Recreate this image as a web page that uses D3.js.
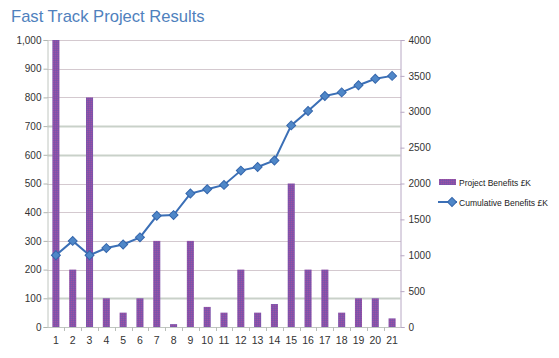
<!DOCTYPE html>
<html><head><meta charset="utf-8">
<script src="https://cdn.jsdelivr.net/npm/d3@7"></script>
<style>body{margin:0;background:#fff}svg{display:block;font-family:"Liberation Sans",Arial,sans-serif}</style>
</head><body><svg id="c" width="559" height="358"></svg>
<script>
const categories = ["1","2","3","4","5","6","7","8","9","10","11","12","13","14","15","16","17","18","19","20","21"];
const projectBenefits = [1000,200,800,100,50,100,300,10,300,70,50,200,50,80,500,200,200,50,100,100,30];
const cumulativeBenefits = [1000,1200,1000,1100,1150,1250,1550,1560,1860,1920,1980,2180,2230,2320,2810,3010,3220,3270,3370,3460,3500];
const leftTicks = [0,100,200,300,400,500,600,700,800,900,1000];
const rightTicks = [0,500,1000,1500,2000,2500,3000,3500,4000];
const seriesNames = ["Project Benefits £K","Cumulative Benefits £K"];
const titleText = "Fast Track Project Results";

const svg = d3.select("#c");
const L = 47.5, R = 400.5, T = 40, B = 327;

const defs = svg.append("defs");
const pat = defs.append("pattern").attr("id","pp").attr("width",2).attr("height",2).attr("patternUnits","userSpaceOnUse");
pat.append("rect").attr("width",2).attr("height",2).attr("fill","#8c4ea4");
pat.append("rect").attr("width",1).attr("height",1).attr("fill","#7058b0");
pat.append("rect").attr("x",1).attr("y",1).attr("width",1).attr("height",1).attr("fill","#9656a8");

const x = d3.scaleBand().domain(categories).range([L, R]).padding(0);
const yL = d3.scaleLinear().domain([0,1000]).range([B, T]);
const yR = d3.scaleLinear().domain([0,4000]).range([B, T]);

// title
svg.append("text").attr("x",11).attr("y",22).attr("font-size",16.6).attr("fill","#4f81bd").text(titleText);

// gridlines
const solid = new Set([100,600,700]);
svg.append("g").selectAll("line").data(leftTicks.filter(d=>d>0)).join("line")
  .attr("x1",L).attr("x2",R)
  .attr("y1",d=>Math.round(yL(d))+0.5).attr("y2",d=>Math.round(yL(d))+0.5)
  .attr("stroke",d=>solid.has(d)?"#c9d1c9":"#a8929e")
  .attr("stroke-width",d=>solid.has(d)?2:1)
  .attr("stroke-dasharray",d=>solid.has(d)?null:"1,1");

// bars
const bw = x.bandwidth()*0.42;
svg.append("g").selectAll("rect").data(projectBenefits).join("rect")
  .attr("x",(d,i)=>x(categories[i])+x.bandwidth()/2-bw/2)
  .attr("y",d=>yL(d)).attr("width",bw).attr("height",d=>B-yL(d))
  .attr("fill","url(#pp)");

// left axis
const axL = svg.append("g").attr("transform",`translate(${L},0)`)
  .call(d3.axisLeft(yL).tickValues(leftTicks).tickSize(4).tickFormat(d3.format(",")));
axL.select(".domain").attr("stroke","#c0c6c0");
axL.selectAll(".tick line").attr("stroke","#b0b6b0");
axL.selectAll("text").attr("font-size",10).attr("fill","#333").attr("x",-6);

// right axis
const axR = svg.append("g").attr("transform",`translate(${R},0)`)
  .call(d3.axisRight(yR).tickValues(rightTicks).tickSize(4).tickFormat(d3.format("d")));
axR.select(".domain").attr("stroke","#b8a8c4");
axR.selectAll(".tick line").attr("stroke","#b8a8c4");
axR.selectAll("text").attr("font-size",10).attr("fill","#333").attr("x",8);

// bottom axis
const axB = svg.append("g").attr("transform",`translate(0,${B})`)
  .call(d3.axisBottom(x).tickSize(0).tickPadding(10));
axB.select(".domain").attr("stroke","#c0c6c0");
axB.selectAll("text").attr("font-size",10.5).attr("fill","#333");
svg.append("g").selectAll("line").data(categories.slice(1)).join("line")
  .attr("x1",d=>Math.round(x(d))+0.5).attr("x2",d=>Math.round(x(d))+0.5)
  .attr("y1",B).attr("y2",B+4).attr("stroke","#b8beb8");

// cumulative line
const cx = (d,i)=>x(categories[i])+x.bandwidth()/2;
svg.append("path").datum(cumulativeBenefits)
  .attr("d",d3.line().x(cx).y(d=>yR(d)))
  .attr("fill","none").attr("stroke","#3b6fb6").attr("stroke-width",2);
const diamond = d3.symbol().type(d3.symbolSquare).size(40);
svg.append("g").selectAll("path").data(cumulativeBenefits).join("path")
  .attr("d",diamond)
  .attr("transform",(d,i)=>`translate(${cx(d,i)},${yR(d)}) rotate(45)`)
  .attr("fill","#4f87c8").attr("stroke","#3466ac").attr("stroke-width",1);

// legend
const lg = svg.append("g");
lg.append("rect").attr("x",439).attr("y",179).attr("width",17).attr("height",6).attr("fill","url(#pp)");
lg.append("text").attr("x",459).attr("y",186).attr("font-size",9.4).attr("fill","#222")
  .attr("textLength",72).attr("lengthAdjust","spacingAndGlyphs").text(seriesNames[0]);
lg.append("line").attr("x1",438).attr("x2",457).attr("y1",202).attr("y2",202).attr("stroke","#3b6fb6").attr("stroke-width",2);
lg.append("path").attr("d",diamond).attr("transform","translate(452,202) rotate(45)").attr("fill","#4f87c8").attr("stroke","#3466ac");
lg.append("text").attr("x",459).attr("y",206).attr("font-size",9.4).attr("fill","#222")
  .attr("textLength",89).attr("lengthAdjust","spacingAndGlyphs").text(seriesNames[1]);
</script></body></html>
